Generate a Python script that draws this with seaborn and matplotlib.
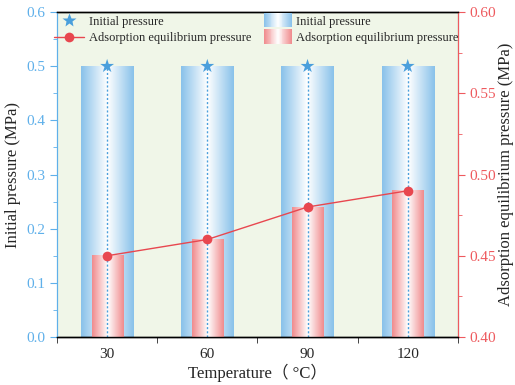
import numpy as np
import pandas as pd
import matplotlib
matplotlib.use("Agg")
import matplotlib.pyplot as plt
import seaborn as sns
from matplotlib.colors import LinearSegmentedColormap
from matplotlib.legend_handler import HandlerBase
from matplotlib.patches import Rectangle
from matplotlib.lines import Line2D
from matplotlib.ticker import MultipleLocator, FixedLocator

temperatures = ["30", "60", "90", "120"]
initial_pressure = [0.5, 0.5, 0.5, 0.5]
equilibrium_pressure = [0.45, 0.46, 0.48, 0.49]

BLUE_EDGE = "#88c1ea"
RED_EDGE = "#f08a8c"
STAR = "#4a9fdc"
LINE_RED = "#e8474f"
BG = "#f0f6e8"
LEFT_C = "#5fb0ea"
RIGHT_C = "#ee5a5e"

blue_cmap = LinearSegmentedColormap.from_list("b", [BLUE_EDGE, "#ffffff", BLUE_EDGE])
red_cmap = LinearSegmentedColormap.from_list("r", [RED_EDGE, "#ffffff", RED_EDGE])

sns.set_style("ticks")
plt.rcParams["font.family"] = ["Liberation Serif", "Noto Sans CJK SC"]
plt.rcParams["font.size"] = 11

df = pd.DataFrame({
    "Temperature": temperatures,
    "initial": initial_pressure,
    # equilibrium pressure expressed on the left (0-0.6) scale for the bars
    "eq_left": [(v - 0.4) / 0.2 * 0.6 for v in equilibrium_pressure],
    "equilibrium": equilibrium_pressure,
})

fig = plt.figure(figsize=(5.15, 3.85), dpi=100)
ax = fig.add_axes([0.1107, 0.1247, 0.7783, 0.8441])
ax.set_facecolor(BG)

sns.barplot(data=df, x="Temperature", y="initial", ax=ax, width=0.52,
            facecolor="none", edgecolor="none", errorbar=None, zorder=2)
n_blue = len(ax.patches)
sns.barplot(data=df, x="Temperature", y="eq_left", ax=ax, width=0.31,
            facecolor="none", edgecolor="none", errorbar=None, zorder=3)

grad = np.linspace(0, 1, 256).reshape(1, -1)
for i, p in enumerate(ax.patches):
    cmap = blue_cmap if i < n_blue else red_cmap
    x0, w, h = p.get_x(), p.get_width(), p.get_height()
    ax.imshow(grad, cmap=cmap, aspect="auto", extent=[x0, x0 + w, 0, h],
              zorder=2 if i < n_blue else 3, interpolation="bicubic")

# dotted guides and stars at the initial pressure
xs = np.arange(len(temperatures))
ax.vlines(xs, 0, initial_pressure, colors=STAR, linestyles=(0, (1.5, 1.5)), lw=1.0, zorder=4)
sns.scatterplot(x=xs, y=initial_pressure, ax=ax, marker="*", s=110, color=STAR,
                edgecolor="none", zorder=5, legend=False)

ax.set_xlim(-0.5, 3.5)
ax.set_ylim(0, 0.6)
ax.yaxis.set_minor_locator(MultipleLocator(0.05))
ax.set_yticks(np.arange(0, 0.61, 0.1))
ax.set_yticklabels([f"{v:.1f}" for v in np.arange(0, 0.61, 0.1)])
ax.xaxis.set_major_locator(FixedLocator(xs))
ax.set_xticklabels(temperatures)
ax.xaxis.set_minor_locator(FixedLocator(np.arange(-0.5, 3.6, 1.0)))
ax.tick_params(axis="x", which="major", length=0, pad=8, labelsize=11)
ax.tick_params(axis="x", which="minor", length=4, direction="out")
ax.tick_params(axis="y", which="major", length=5, colors=LEFT_C, labelsize=11)
ax.tick_params(axis="y", which="minor", length=3, colors=LEFT_C)
ax.spines["left"].set_color(LEFT_C)
ax.set_xlabel("Temperature（ °C）", fontsize=12, labelpad=2)
ax.set_ylabel("Initial pressure (MPa)", fontsize=12, labelpad=4)

ax2 = ax.twinx()
sns.lineplot(x=xs, y=equilibrium_pressure, ax=ax2, color=LINE_RED, lw=1.0,
             marker="o", markersize=7, markeredgecolor="none", zorder=6)
ax2.set_ylim(0.4, 0.6)
ax2.set_yticks([0.40, 0.45, 0.50, 0.55, 0.60])
ax2.set_yticklabels(["0.40", "0.45", "0.50", "0.55", "0.60"])
ax2.yaxis.set_minor_locator(MultipleLocator(0.025))
ax2.tick_params(axis="y", which="major", length=5, colors=RIGHT_C, labelsize=11, pad=3)
ax2.tick_params(axis="y", which="minor", length=3, colors=RIGHT_C)
ax2.spines["right"].set_color(RIGHT_C)
ax2.spines["left"].set_color(LEFT_C)
ax2.set_ylabel("Adsorption equilibrium pressure (MPa)", fontsize=12, labelpad=2)
for a in (ax, ax2):
    a.spines["top"].set_visible(True)
    a.spines["top"].set_color("black")
    a.spines["bottom"].set_color("black")
    a.spines["top"].set_linewidth(1.0)
    a.spines["bottom"].set_linewidth(1.0)
ax.set_zorder(1)
ax2.set_zorder(2)
ax2.patch.set_visible(False)


class GradientHandler(HandlerBase):
    def __init__(self, cmap):
        super().__init__()
        self.cmap = cmap

    def create_artists(self, legend, orig_handle, xdescent, ydescent, width, height, fontsize, trans):
        n = 30
        arts = []
        for k in range(n):
            r = Rectangle((-xdescent + width * k / n, -ydescent - 2), width / n + 0.3, height + 4,
                          facecolor=self.cmap((k + 0.5) / n), edgecolor="none", transform=trans)
            arts.append(r)
        return arts


h_star = Line2D([], [], marker="*", color=STAR, ls="none", markersize=10, markeredgecolor="none")
h_line = Line2D([], [], marker="o", color=LINE_RED, lw=1.0, markersize=7, markeredgecolor="none")
leg1 = ax2.legend([h_star, h_line], ["Initial pressure", "Adsorption equilibrium pressure"],
                  loc="upper left", frameon=False, fontsize=9, handlelength=2.4,
                  borderaxespad=0.2, labelspacing=0.35, handletextpad=0.4,
                  bbox_to_anchor=(-0.025, 1.012))
ax2.add_artist(leg1)
hb = Rectangle((0, 0), 1, 1)
hr = Rectangle((0, 0), 1, 1)
ax2.legend([hb, hr], ["Initial pressure", "Adsorption equilibrium pressure"],
           handler_map={hb: GradientHandler(blue_cmap), hr: GradientHandler(red_cmap)},
           loc="upper right", frameon=False, fontsize=9, handlelength=2.2,
           borderaxespad=0.2, labelspacing=0.35, handletextpad=0.35,
           bbox_to_anchor=(1.02, 1.012))

fig.savefig("out.png", dpi=100)
